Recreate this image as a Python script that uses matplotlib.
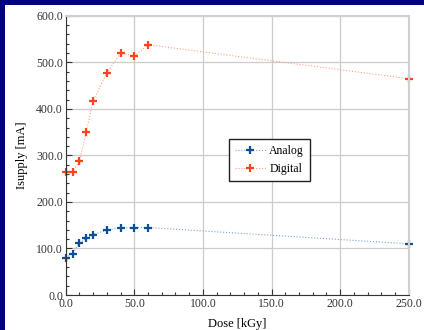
import numpy as np
import matplotlib
matplotlib.use("Agg")
import matplotlib.pyplot as plt
from matplotlib.patches import Rectangle
from matplotlib.ticker import MultipleLocator, FormatStrFormatter

dose = [0, 5, 10, 15, 20, 30, 40, 50, 60, 250]
analog = [80, 89, 112, 122, 130, 139, 145, 145, 145, 110]
digital = [265, 265, 287, 351, 418, 477, 520, 514, 538, 465]

plt.rcParams['font.family'] = ['Liberation Serif', 'DejaVu Serif']

fig = plt.figure(figsize=(4.24, 3.30), dpi=100, facecolor='#000080')
# white panel, navy strip left and top
fig.patches.append(Rectangle((5/424, 0), 1, 325/330, transform=fig.transFigure,
                             facecolor='white', edgecolor='none', zorder=-10))
ax = fig.add_axes([0.155, 0.106, 0.809, 0.846])

ax.plot(dose, analog, color='#7aa4cf', ls=':', lw=0.8, marker='+', ms=5.5, mew=1.6,
        mec='#0d4f96', label='Analog', clip_on=False)
ax.plot(dose, digital, color='#ff9f88', ls=':', lw=0.8, marker='+', ms=5.5, mew=1.6,
        mec='#ff4218', label='Digital', clip_on=False)

ax.set_xlim(0, 250)
ax.set_ylim(0, 600)
ax.xaxis.set_major_locator(MultipleLocator(50))
ax.xaxis.set_minor_locator(MultipleLocator(10))
ax.yaxis.set_major_locator(MultipleLocator(100))
ax.yaxis.set_minor_locator(MultipleLocator(20))
ax.xaxis.set_major_formatter(FormatStrFormatter('%.1f'))
ax.yaxis.set_major_formatter(FormatStrFormatter('%.1f'))
ax.tick_params(which='both', direction='in', top=False, right=False,
               labelsize=8.5, colors='#333333', width=0.8)
ax.tick_params(which='major', length=4, pad=2)
ax.tick_params(which='minor', length=2)
ax.grid(True, which='major', color='#cccccc', lw=0.9)
ax.set_axisbelow(True)
for s in ['top', 'right']:
    ax.spines[s].set_color('#d0d0d0')
    ax.spines[s].set_linewidth(1.5)
for s in ['left', 'bottom']:
    ax.spines[s].set_color('#333333')
    ax.spines[s].set_linewidth(0.8)

ax.set_xlabel('Dose [kGy]', fontsize=9, labelpad=6)
ax.set_ylabel('Isupply [mA]', fontsize=9, labelpad=6)

leg = ax.legend(loc='upper left', bbox_to_anchor=(0.476, 0.5585), fontsize=8.5,
                fancybox=False, edgecolor='#222222', framealpha=1,
                borderaxespad=0, handlelength=2.6, handletextpad=0.3,
                borderpad=0.5, labelspacing=0.5)
leg.get_frame().set_linewidth(1.0)

fig.savefig('out.png', dpi=100, facecolor=fig.get_facecolor())
